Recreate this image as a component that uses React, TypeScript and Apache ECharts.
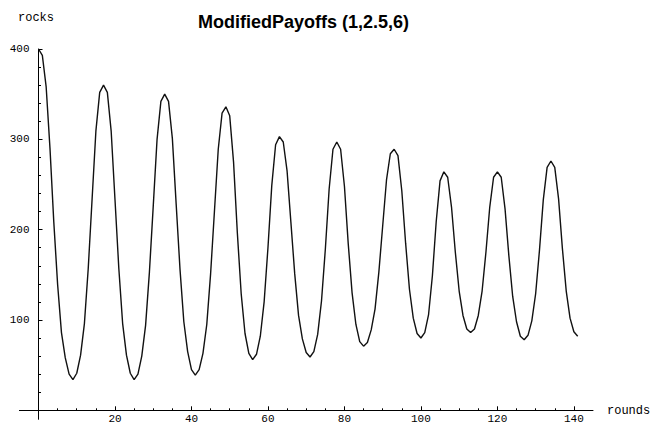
import React, { useEffect, useRef } from "react";
import * as echarts from "echarts";

// rocks count at each round (index = round number)
const rocks: number[] = [
  400, 393, 358, 290, 208, 139, 86, 58, 40, 34,
  41, 61, 96, 157, 233, 309, 352, 360, 352, 309,
  233, 157, 96, 61, 41, 34, 40, 60, 94, 153,
  226, 300, 342, 350, 342, 301, 228, 156, 98, 65,
  45, 39, 45, 63, 95, 151, 220, 289, 329, 336,
  326, 275, 196, 129, 85, 63, 56, 62, 82, 120,
  180, 249, 294, 303, 297, 265, 208, 151, 105, 79,
  64, 59, 65, 84, 121, 178, 245, 289, 297, 289,
  248, 184, 130, 95, 76, 71, 75, 89, 112, 153,
  204, 255, 284, 289, 282, 243, 185, 134, 102, 85,
  80, 86, 106, 149, 209, 254, 264, 258, 225, 175,
  132, 105, 90, 86, 90, 105, 132, 175, 225, 258,
  264, 258, 223, 171, 126, 98, 82, 78, 83, 99,
  129, 177, 233, 269, 276, 269, 234, 179, 132, 102,
  87, 82,
];

// axis tick settings (values)
const xTickStep = 20;
const xTickMax = 140;
const yTickStep = 100;
const yTickMax = 400;

const titleText = "ModifiedPayoffs (1,2.5,6)";
const yName = "rocks";
const xName = "rounds";

const monoFont = "'Liberation Mono', 'DejaVu Sans Mono', monospace";

export default function App() {
  const ref = useRef<HTMLDivElement>(null);

  useEffect(() => {
    if (!ref.current) return;
    const chart = echarts.init(ref.current, null, { renderer: "svg" });
    const seriesData = rocks.map((v, i) => [i, v]);
    const axisColor = "#000";
    const hideZero = (v: number) => (v === 0 ? "" : String(v));
    chart.setOption({
      animation: false,
      backgroundColor: "#fff",
      title: {
        text: titleText,
        left: 198,
        top: 13,
        padding: 0,
        textStyle: {
          fontFamily: "'Liberation Sans', Arial, sans-serif",
          fontWeight: "bold",
          fontSize: 18,
          color: "#000",
        },
      },
      graphic: [
        {
          type: "text",
          left: 18,
          top: 12,
          style: { text: yName, font: `12px ${monoFont}`, fill: "#000" },
        },
        {
          type: "text",
          left: 607,
          top: 405,
          style: { text: xName, font: `12px ${monoFont}`, fill: "#000" },
        },
      ],
      grid: [
        // grid 0: axis lines (extended past origin) and the data line
        { left: 19.4, right: 58, top: 49, bottom: 6.7, outerBoundsMode: "none", containLabel: false },
        // grid 1: ticks and tick labels
        { left: 38.5, right: 77.1, top: 49, bottom: 15.7, outerBoundsMode: "none", containLabel: false },
      ],
      xAxis: [
        {
          gridIndex: 0,
          type: "value",
          min: -5,
          max: 145,
          axisLine: { show: true, onZero: true, lineStyle: { color: axisColor, width: 1 } },
          axisTick: { show: false },
          axisLabel: { show: false },
          splitLine: { show: false },
        },
        {
          gridIndex: 1,
          type: "value",
          min: 0,
          max: xTickMax,
          interval: xTickStep,
          axisLine: { show: false, onZero: false },
          axisTick: { show: true, inside: true, length: 4, lineStyle: { color: axisColor, width: 1 } },
          minorTick: { show: true, splitNumber: 4, length: 2, lineStyle: { color: axisColor, width: 1 } },
          axisLabel: {
            show: true,
            formatter: hideZero,
            margin: 3,
            fontFamily: monoFont,
            fontSize: 11,
            color: "#000",
          },
          splitLine: { show: false },
          minorSplitLine: { show: false },
        },
      ],
      yAxis: [
        {
          gridIndex: 0,
          type: "value",
          min: -10,
          max: 400,
          axisLine: { show: true, onZero: true, lineStyle: { color: axisColor, width: 1 } },
          axisTick: { show: false },
          axisLabel: { show: false },
          splitLine: { show: false },
        },
        {
          gridIndex: 1,
          type: "value",
          min: 0,
          max: yTickMax,
          interval: yTickStep,
          axisLine: { show: false, onZero: false },
          axisTick: { show: true, inside: true, length: 4, lineStyle: { color: axisColor, width: 1 } },
          minorTick: { show: true, splitNumber: 5, length: 2.5, lineStyle: { color: axisColor, width: 1 } },
          axisLabel: {
            show: true,
            formatter: hideZero,
            margin: 9,
            fontFamily: monoFont,
            fontSize: 11,
            color: "#000",
          },
          splitLine: { show: false },
          minorSplitLine: { show: false },
        },
      ],
      series: [
        {
          type: "line",
          name: yName,
          xAxisIndex: 0,
          yAxisIndex: 0,
          data: seriesData,
          showSymbol: false,
          symbol: "none",
          lineStyle: { color: "#111", width: 1.4 },
        },
      ],
    });
    return () => chart.dispose();
  }, []);

  return (
    <div
      ref={ref}
      style={{ position: "fixed", left: 0, top: 0, width: 651, height: 426, background: "#fff" }}
    />
  );
}
